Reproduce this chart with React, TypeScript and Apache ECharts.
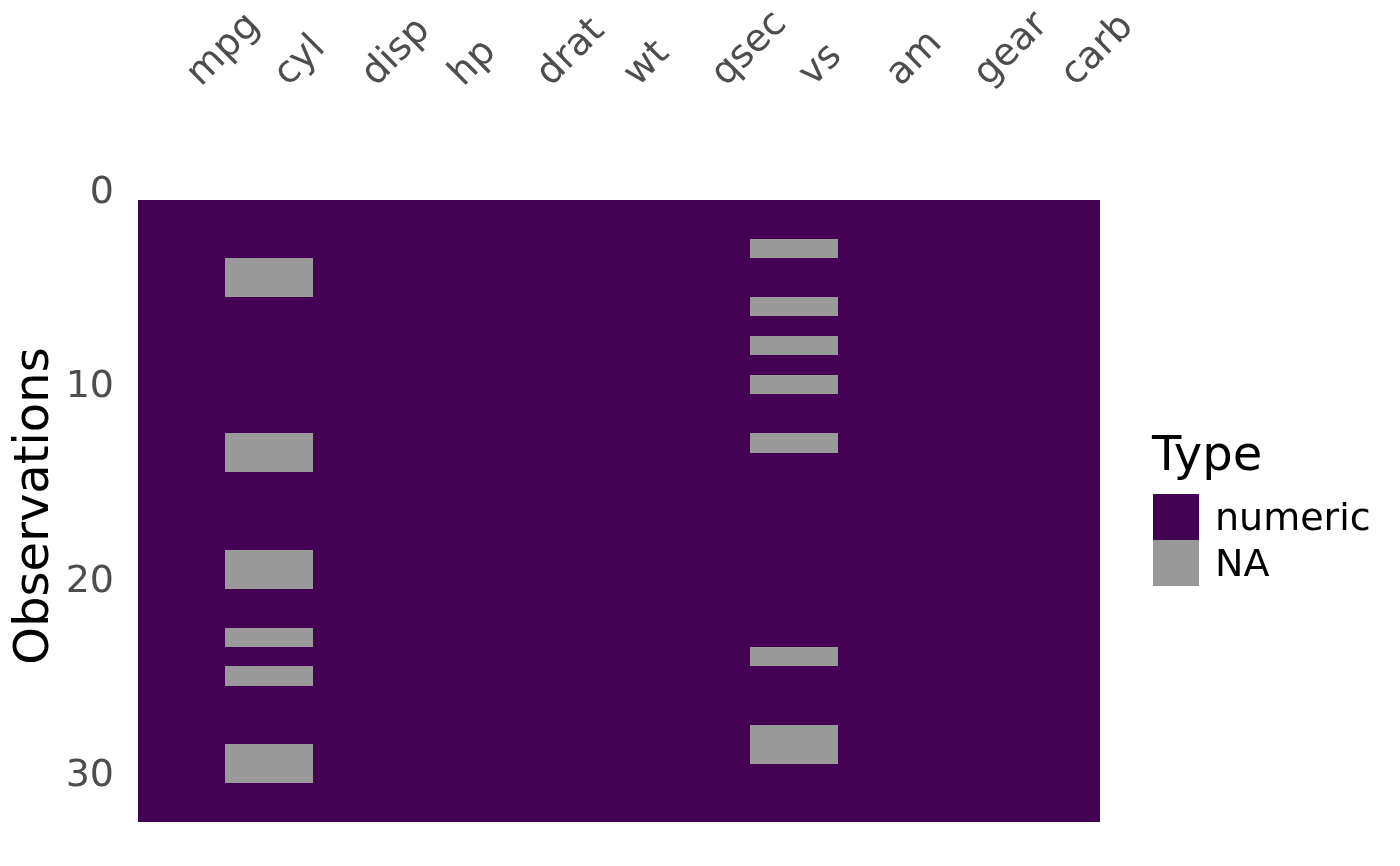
import React, { useEffect, useRef } from "react";
import * as echarts from "echarts";

const columns = ["mpg", "cyl", "disp", "hp", "drat", "wt", "qsec", "vs", "am", "gear", "carb"];
const rowCount = 32;
const cylMissingRows = [4, 5, 13, 14, 19, 20, 23, 25, 29, 30];
const vsMissingRows = [3, 6, 8, 10, 13, 24, 28, 29];
const yTicks = [0, 10, 20, 30];
const typeLabels = ["numeric", "NA"];
const typeColors = ["#440154", "#999999"];

const missingByColumn: Record<string, number[]> = { cyl: cylMissingRows, vs: vsMissingRows };

const numericCells: number[][] = [];
const naCells: number[][] = [];
columns.forEach((col, ci) => {
  const miss = missingByColumn[col] || [];
  for (let r = 1; r <= rowCount; r++) {
    if (miss.includes(r)) naCells.push([ci, r]);
    else numericCells.push([ci, r]);
  }
});

const FONT = "DejaVu Sans";

function makeRender(color: string) {
  return (params: any, api: any) => {
    const c = api.coord([api.value(0), api.value(1)]);
    const s = api.size([1, 1]);
    const x0 = Math.round(c[0] - s[0] / 2);
    const x1 = Math.round(c[0] + s[0] / 2);
    const y0 = Math.round(c[1] - s[1] / 2);
    const y1 = Math.round(c[1] + s[1] / 2);
    return {
      type: "rect",
      shape: { x: x0, y: y0, width: x1 - x0, height: y1 - y0 },
      style: { fill: color },
    };
  };
}

export default function App() {
  const ref = useRef<HTMLDivElement>(null);
  useEffect(() => {
    if (!ref.current) return;
    const chart = echarts.init(ref.current, null, { renderer: "svg" });
    chart.setOption({
      animation: false,
      textStyle: { fontFamily: FONT },
      title: {
        text: "Type",
        left: 1152,
        top: 429,
        padding: 0,
        textStyle: { fontFamily: FONT, fontSize: 48, fontWeight: "normal", color: "#000000" },
      },
      legend: {
        data: typeLabels,
        orient: "vertical",
        left: 1153,
        top: 494,
        padding: 0,
        itemWidth: 46,
        itemHeight: 46,
        itemGap: 0,
        icon: "rect",
        selectedMode: false,
        textStyle: { fontFamily: FONT, fontSize: 38, color: "#000000", padding: [0, 0, 0, 11] },
      },
      grid: { left: 138, right: 300, top: 190, bottom: 44, outerBoundsMode: "none", containLabel: false },
      xAxis: {
        type: "category",
        position: "top",
        data: columns,
        axisLine: { show: false },
        axisTick: { show: false },
        splitLine: { show: false },
        axisLabel: {
          rotate: 45,
          margin: 102,
          fontSize: 38,
          color: "#4D4D4D",
          fontFamily: FONT,
          interval: 0,
          padding: [0, 0, 0, 14],
        },
      },
      yAxis: {
        type: "value",
        inverse: true,
        min: 0,
        max: 32.5,
        interval: 10,
        name: "Observations",
        nameLocation: "middle",
        nameRotate: 90,
        nameGap: 80,
        nameTextStyle: { fontFamily: FONT, fontSize: 48, color: "#000000" },
        axisLine: { show: false },
        axisTick: { show: false },
        splitLine: { show: false },
        axisLabel: {
          fontSize: 38,
          color: "#4D4D4D",
          fontFamily: FONT,
          margin: 24,
          showMaxLabel: false,
          formatter: (v: number) => (yTicks.includes(v) ? String(v) : ""),
        },
      },
      series: [
        {
          name: typeLabels[0],
          type: "custom",
          clip: true,
          itemStyle: { color: typeColors[0] },
          renderItem: makeRender(typeColors[0]),
          encode: { x: 0, y: 1 },
          data: numericCells,
        },
        {
          name: typeLabels[1],
          type: "custom",
          clip: true,
          itemStyle: { color: typeColors[1] },
          renderItem: makeRender(typeColors[1]),
          encode: { x: 0, y: 1 },
          data: naCells,
        },
      ],
    });
    return () => chart.dispose();
  }, []);
  return <div ref={ref} style={{ position: "fixed", left: 0, top: 0, width: 1400, height: 866 }} />;
}
